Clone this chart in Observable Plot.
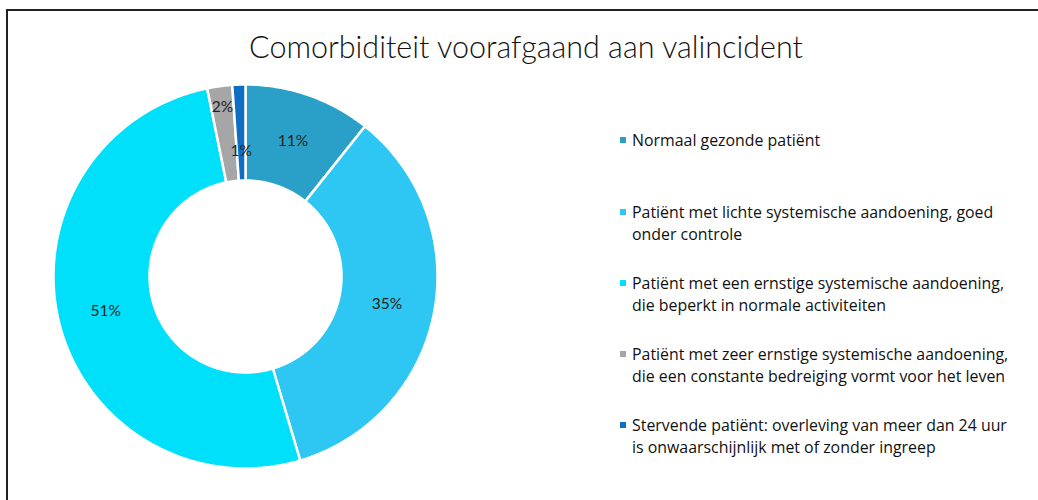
<!DOCTYPE html>
<html>
<head>
<meta charset="utf-8">
<script src="https://cdn.jsdelivr.net/npm/d3@7"></script>
<script src="https://cdn.jsdelivr.net/npm/@observablehq/plot@0.6"></script>
<style>
  html, body { margin: 0; padding: 0; background: #fff; }
  #wrap { position: relative; width: 1038px; height: 500px; overflow: hidden; font-family: Lato, "Open Sans", sans-serif; }
  #frame { position: absolute; left: 6px; top: 9px; width: 1100px; height: 600px; border-top: 2px solid #222; border-left: 2px solid #222; box-sizing: border-box; }
  #title { position: absolute; top: 28px; left: 126px; width: 800px; text-align: center; font-size: 30.5px; font-weight: 300; color: #111; }
  #chart { position: absolute; left: 0; top: 0; }
  .leg { position: absolute; left: 632px; font-family: "Open Sans", sans-serif; font-size: 15.9px; line-height: 22px; color: #111; white-space: nowrap; }
  .sw { position: absolute; left: -12px; top: 8px; width: 6px; height: 6px; }
</style>
</head>
<body>
<div id="wrap">
  <div id="frame"></div>
  <div id="chart"></div>
  <div id="title">Comorbiditeit voorafgaand aan valincident</div>
  <div id="legend"></div>
</div>
<script>
const categories = [
  "Normaal gezonde patiënt",
  "Patiënt met lichte systemische aandoening, goed\nonder controle",
  "Patiënt met een ernstige systemische aandoening,\ndie beperkt in normale activiteiten",
  "Patiënt met zeer ernstige systemische aandoening,\ndie een constante bedreiging vormt voor het leven",
  "Stervende patiënt: overleving van meer dan 24 uur\nis onwaarschijnlijk met of zonder ingreep"
];
const values = [10.7, 34.7, 51.4, 2.1, 1.1];
const valueLabels = ["11%", "35%", "51%", "2%", "1%"];
const colors = ["#2aa0c8", "#2ec6f2", "#00e0fa", "#a6a6a6", "#0e6ec4"];

// geometry (pixels)
const W = 1038, H = 500, cx = 245, cy = 276, R = 192, r = 96;

const pie = d3.pie().sort(null).value(d => d.value);
const arcs = pie(categories.map((c, i) => ({cat: c, value: values[i], label: valueLabels[i], i})));

// Build polygon points for each slice
const pts = [];
for (const a of arcs) {
  const n = Math.max(4, Math.ceil((a.endAngle - a.startAngle) / 0.01));
  for (let k = 0; k <= n; k++) {
    const t = a.startAngle + (a.endAngle - a.startAngle) * k / n;
    pts.push({i: a.data.i, cat: a.data.cat, x: R * Math.sin(t), y: R * Math.cos(t)});
  }
  for (let k = n; k >= 0; k--) {
    const t = a.startAngle + (a.endAngle - a.startAngle) * k / n;
    pts.push({i: a.data.i, cat: a.data.cat, x: r * Math.sin(t), y: r * Math.cos(t)});
  }
}
// label radii: middle of the ring, small adjacent slices pushed out/in
const labelR = arcs.map((a, i) => (i === 3 ? 171 : i === 4 ? 126 : (R + r) / 2));
const labs = arcs.map((a, i) => {
  const m = (a.startAngle + a.endAngle) / 2;
  return {x: labelR[i] * Math.sin(m), y: labelR[i] * Math.cos(m), label: a.data.label};
});

const chart = Plot.plot({
  width: W, height: H,
  margin: 0,
  x: {domain: [-cx, W - cx], axis: null},
  y: {domain: [cy - H, cy], axis: null},
  color: {domain: categories, range: colors},
  marks: [
    Plot.line(pts, {x: "x", y: "y", z: "i", fill: "cat", stroke: "white", strokeWidth: 2.5, curve: "linear-closed"}),
    Plot.text(labs, {x: "x", y: "y", text: "label", fontSize: 15.5, fill: "#222", fontFamily: "Lato, sans-serif"})
  ]
});
chart.style.background = "transparent";
document.getElementById("chart").appendChild(chart);

// legend
const legTops = [129, 201, 272, 343, 414];
const leg = document.getElementById("legend");
categories.forEach((c, i) => {
  const d = document.createElement("div");
  d.className = "leg";
  d.style.top = legTops[i] + "px";
  const sw = document.createElement("span");
  sw.className = "sw";
  sw.style.background = colors[i];
  d.appendChild(sw);
  c.split("\n").forEach((line, k) => {
    if (k) d.appendChild(document.createElement("br"));
    d.appendChild(document.createTextNode(line));
  });
  leg.appendChild(d);
});
</script>
</body>
</html>
